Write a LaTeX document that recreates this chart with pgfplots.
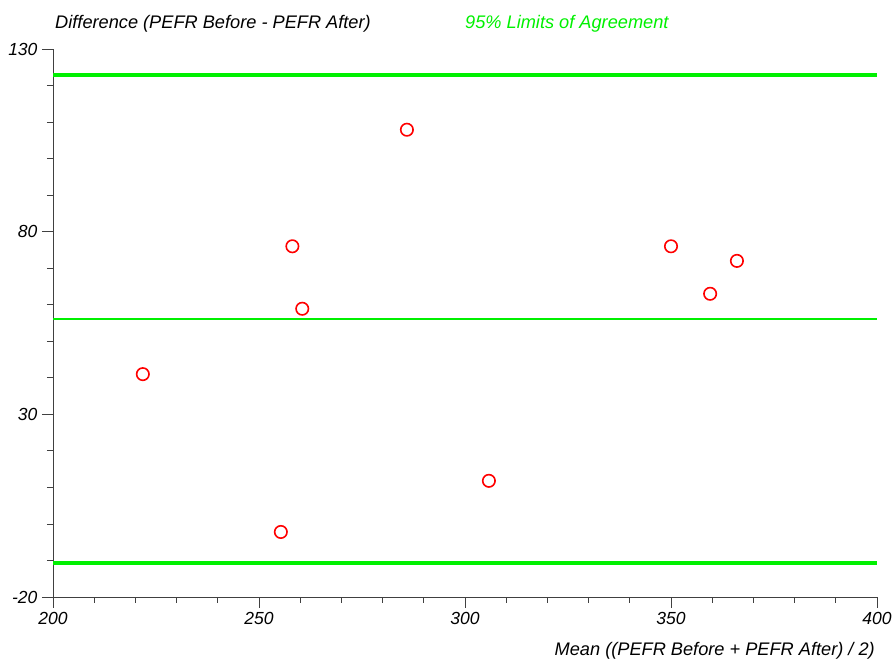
\documentclass[border=0pt]{standalone}
\usepackage{fontspec}
\setmainfont{Liberation Sans}
\usepackage{pgfplots}
\pgfplotsset{compat=1.18}
\definecolor{limgreen}{RGB}{0,240,0}
\definecolor{ptred}{RGB}{255,0,0}

\begin{document}
\begin{tikzpicture}
\begin{axis}[
  scale only axis, width=824pt, height=548pt,
  xmin=200, xmax=400, ymin=-20, ymax=130,
  axis lines*=left, axis line style={black!75, line width=0.8pt},
  xtick={200,250,...,400}, ytick={-20,30,80,130},
  minor tick num=4,
  tick align=outside, tick style={black!75, line width=0.8pt},
  major tick length=11pt, minor tick length=6pt,
  /pgf/number format/assume math mode=true,
  ticklabel style={font=\itshape\fontsize{17.5}{19}\selectfont},
  xticklabel style={yshift=-1pt},
  yticklabel style={xshift=-1pt},
  clip=false,
]
% 95% limits of agreement and mean difference
\addplot[limgreen, line width=4pt] coordinates {(200,123.0) (400,123.0)};
\addplot[limgreen, line width=1.6pt] coordinates {(200,56.1) (400,56.1)};
\addplot[limgreen, line width=4pt] coordinates {(200,-10.8) (400,-10.8)};

\addplot[only marks, mark=o, mark size=6.2pt, ptred, line width=1.6pt] coordinates {
  (221.8,41.0) (255.3,-2.2) (258.1,76.0) (260.5,58.9) (285.9,107.9)
  (305.8,11.8) (350.0,76.0) (359.5,63.0) (366.0,72.0)
};

\node[anchor=base west, font=\itshape\fontsize{18.2}{20}\selectfont, inner sep=0pt]
  at ([xshift=2pt,yshift=20pt]rel axis cs:0,1) {Difference (PEFR Before - PEFR After)};
\node[anchor=base west, font=\itshape\fontsize{18.2}{20}\selectfont, inner sep=0pt, text=limgreen]
  at ([yshift=20pt]rel axis cs:0.5,1) {95\% Limits of Agreement};
\node[anchor=base east, font=\itshape\fontsize{18.2}{20}\selectfont, inner sep=0pt]
  at ([xshift=-2pt,yshift=-59pt]rel axis cs:1,0) {Mean ((PEFR Before + PEFR After) / 2)};
\coordinate (o) at (rel axis cs:0,0);
\end{axis}
\pgfresetboundingbox
\path (o) ++(-53pt,-69pt) rectangle ++(894pt,666pt);
\end{tikzpicture}
\end{document}
